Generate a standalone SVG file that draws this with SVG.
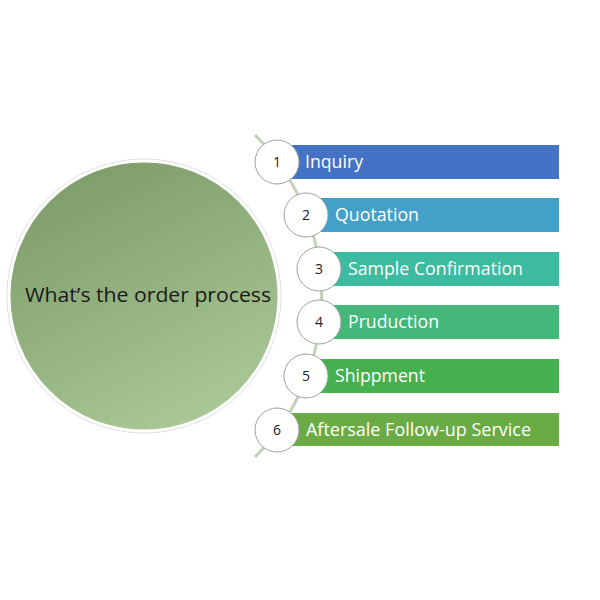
<svg xmlns="http://www.w3.org/2000/svg" width="600" height="600" viewBox="0 0 600 600">
<defs>
<linearGradient id="g" x1="0.25" y1="0" x2="0.75" y2="1">
<stop offset="0" stop-color="#7e9b6a"/>
<stop offset="1" stop-color="#abca97"/>
</linearGradient>
<style>
.bar-t{font-family:"Open Sans","Liberation Sans",sans-serif;font-size:18px;fill:#ffffff}
.num{font-family:"Open Sans","Liberation Sans",sans-serif;font-size:14px;fill:#222222;text-anchor:middle}
.dot{fill:#ffffff;stroke:#9aa4a0;stroke-width:1}
</style>
</defs>
<rect width="600" height="600" fill="#ffffff"/>
<g id="main">
<circle cx="144" cy="296" r="137" fill="none" stroke="#d8dcd6" stroke-width="1"/>
<circle cx="144" cy="296" r="135" fill="url(#g)" stroke="#ffffff" stroke-width="3"/>
<text x="148" y="302" text-anchor="middle" font-family="Open Sans,Liberation Sans,sans-serif" font-size="20" fill="#1a1a1a" textLength="246" lengthAdjust="spacingAndGlyphs">What’s the order process</text>
</g>
<g id="connectors">
<path d="M 255 135 A 228 228 0 0 1 255 457" fill="none" stroke="#c3d2b6" stroke-width="3"/>
</g>
<g id="step1">
<rect x="290" y="145" width="269" height="34" fill="#4472c4"/>
<circle class="dot" cx="277" cy="162" r="22"/>
<text class="num" x="277" y="167">1</text>
<text class="bar-t" x="305" y="168" textLength="58" lengthAdjust="spacingAndGlyphs">Inquiry</text>
</g>
<g id="step2">
<rect x="318" y="198" width="241" height="34" fill="#43a0c8"/>
<circle class="dot" cx="306" cy="215" r="22"/>
<text class="num" x="306" y="220">2</text>
<text class="bar-t" x="335" y="221" textLength="84" lengthAdjust="spacingAndGlyphs">Quotation</text>
</g>
<g id="step3">
<rect x="331" y="252" width="228" height="34" fill="#3dbba0"/>
<circle class="dot" cx="319" cy="269" r="22"/>
<text class="num" x="319" y="274">3</text>
<text class="bar-t" x="348" y="275" textLength="175" lengthAdjust="spacingAndGlyphs">Sample Confirmation</text>
</g>
<g id="step4">
<rect x="331" y="305" width="228" height="34" fill="#44b77a"/>
<circle class="dot" cx="319" cy="322" r="22"/>
<text class="num" x="319" y="327">4</text>
<text class="bar-t" x="348" y="328" textLength="91" lengthAdjust="spacingAndGlyphs">Pruduction</text>
</g>
<g id="step5">
<rect x="318" y="359" width="241" height="34" fill="#45b04d"/>
<circle class="dot" cx="306" cy="376" r="22"/>
<text class="num" x="306" y="381">5</text>
<text class="bar-t" x="335" y="382" textLength="90" lengthAdjust="spacingAndGlyphs">Shippment</text>
</g>
<g id="step6">
<rect x="290" y="413" width="269" height="33" fill="#6aab45"/>
<circle class="dot" cx="277" cy="430" r="22"/>
<text class="num" x="277" y="435">6</text>
<text class="bar-t" x="306" y="436" textLength="225" lengthAdjust="spacingAndGlyphs">Aftersale Follow-up Service</text>
</g>
</svg>
